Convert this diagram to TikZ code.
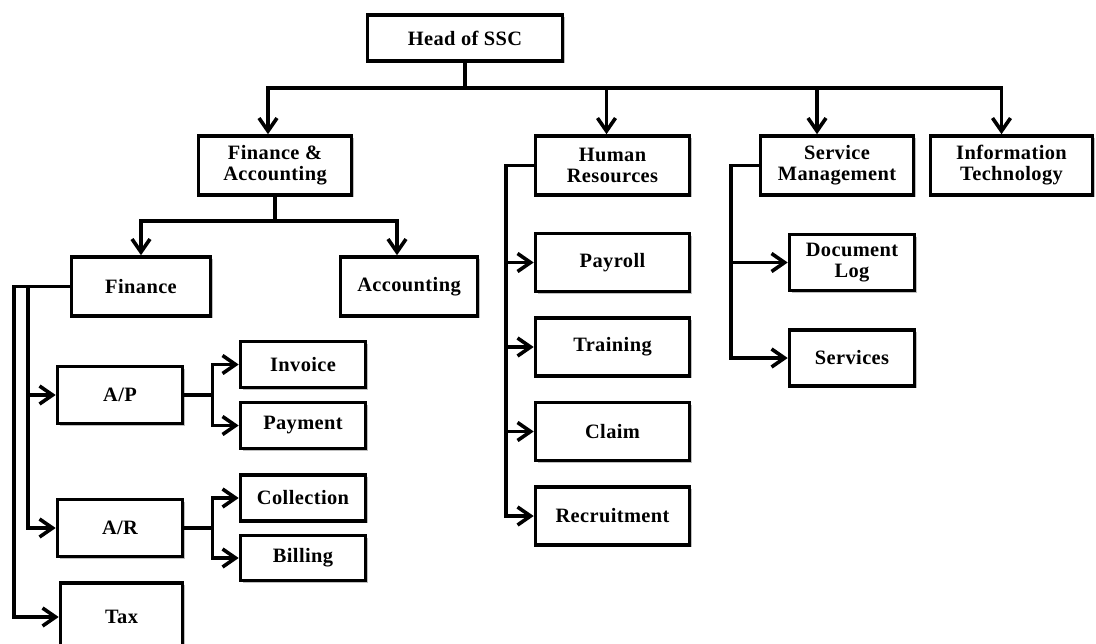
\documentclass[tikz,border=0pt]{standalone}
\usepackage{fontspec}
\setmainfont{Liberation Serif}[LetterSpace=2]
\usetikzlibrary{arrows.meta,shadows}

\begin{document}
\begin{tikzpicture}[x=0.5pt, y=-0.5pt,
      box/.style={draw, line width=1.8pt, fill=white, inner sep=0pt, align=center,
        font=\bfseries\fontsize{10.2}{10.5}\selectfont,
        drop shadow={shadow xshift=1pt, shadow yshift=-1pt, opacity=0.25, fill=black}},
      link/.style={line width=1.8pt, -{Straight Barb[length=6.5pt, width=9pt]}}]
      \useasboundingbox (0,0) rectangle (1096,643);
      \node[box, minimum width=97.5pt, minimum height=23pt] (head) at (465,38) {Head of SSC};
      \node[box, minimum width=76.5pt, minimum height=29.5pt] (fa) at (275,165.5) {Finance \&\\Accounting};
      \node[box, minimum width=77pt, minimum height=29.5pt] (hr) at (612.5,165.5) {Human\\Resources};
      \node[box, minimum width=76.5pt, minimum height=29.5pt] (sm) at (837,165.5) {Service\\Management};
      \node[box, minimum width=81pt, minimum height=29.5pt] (it) at (1011.5,165.5) {Information\\Technology};
      \node[box, minimum width=69.5pt, minimum height=29.5pt] (fin) at (141,286.5) {Finance};
      \node[box, minimum width=68.5pt, minimum height=29.5pt] (acc) at (409,286.5) {Accounting};
      \node[box, minimum width=62.5pt, minimum height=28.5pt] (ap) at (120,395) {A/P};
      \node[box, minimum width=62.5pt, minimum height=28.5pt] (ar) at (120,528) {A/R};
      \node[box, minimum width=61pt, minimum height=34pt] (tax) at (121.5,617) {Tax};
      \node[box, minimum width=62.5pt, minimum height=23pt] (inv) at (303,364.5) {Invoice};
      \node[box, minimum width=62.5pt, minimum height=23pt] (pay) at (303,425.5) {Payment};
      \node[box, minimum width=62.5pt, minimum height=23pt] (coll) at (303,498) {Collection};
      \node[box, minimum width=62.5pt, minimum height=22.5pt] (bill) at (303,558) {Billing};
      \node[box, minimum width=77pt, minimum height=29pt] (payroll) at (612.5,262.5) {Payroll};
      \node[box, minimum width=77pt, minimum height=29pt] (train) at (612.5,347) {Training};
      \node[box, minimum width=77pt, minimum height=29pt] (claim) at (612.5,431.5) {Claim};
      \node[box, minimum width=77pt, minimum height=29pt] (recr) at (612.5,516) {Recruitment};
      \node[box, minimum width=62.5pt, minimum height=28pt] (doclog) at (852,262.5) {Document\\Log};
      \node[box, minimum width=62.5pt, minimum height=28pt] (serv) at (852,358) {Services};

      \draw[link] (head.south) -- ++(0,25) -| ([xshift=-3.5pt]fa.north);
      \draw[link] (head.south) -- ++(0,25) -| ([xshift=-3pt]hr.north);
      \draw[link] (head.south) -- ++(0,25) -| ([xshift=-10pt]sm.north);
      \draw[link] (head.south) -- ++(0,25) -| ([xshift=-5pt]it.north);
      \draw[link] (fa.south) -- ++(0,24) -| (fin.north);
      \draw[link] (fa.south) -- ++(0,24) -| ([xshift=-6pt]acc.north);
      \draw[link] (fin.west) -- ++(-56,0) |- (tax.west);
      \draw[link] (fin.west) -- ++(-42,0) |- (ap.west);
      \draw[link] (fin.west) -- ++(-42,0) |- (ar.west);
      \draw[link] (ap.east) -- ++(28,0) |- (inv.west);
      \draw[link] (ap.east) -- ++(28,0) |- (pay.west);
      \draw[link] (ar.east) -- ++(28,0) |- (coll.west);
      \draw[link] (ar.east) -- ++(28,0) |- (bill.west);
      \draw[link] (hr.west) -- ++(-28,0) |- (payroll.west);
      \draw[link] (hr.west) -- ++(-28,0) |- (train.west);
      \draw[link] (hr.west) -- ++(-28,0) |- (claim.west);
      \draw[link] (hr.west) -- ++(-28,0) |- (recr.west);
      \draw[link] (sm.west) -- ++(-28,0) |- (doclog.west);
      \draw[link] (sm.west) -- ++(-28,0) |- (serv.west);
    \end{tikzpicture}
\end{document}
